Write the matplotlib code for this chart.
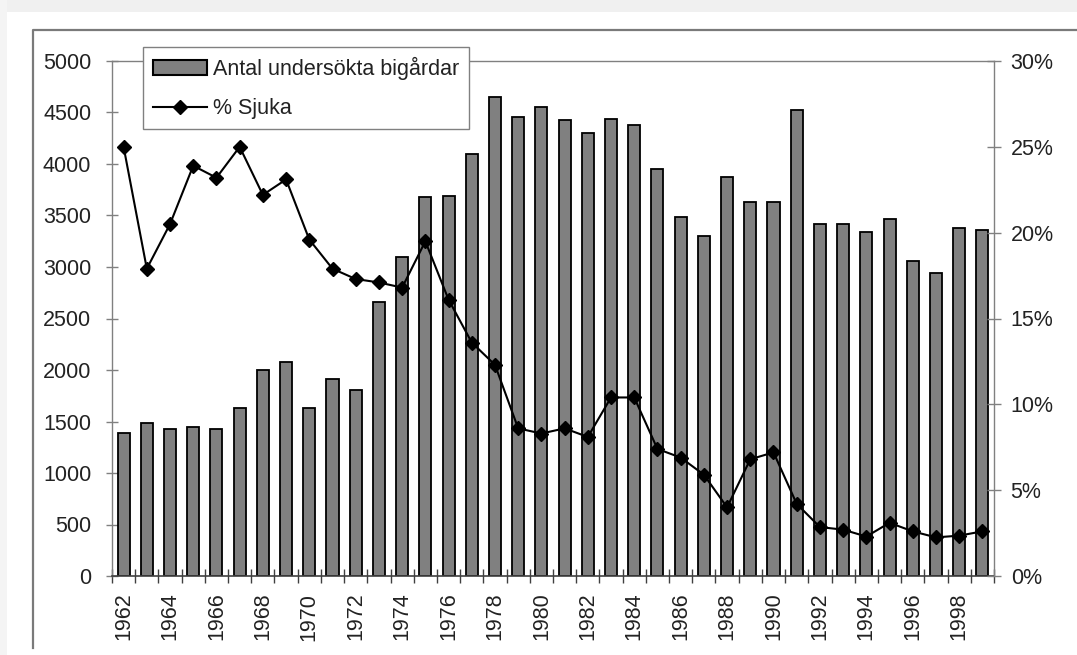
import matplotlib
matplotlib.use("Agg")
import matplotlib.pyplot as plt
from matplotlib.patches import Rectangle, Patch
from matplotlib.lines import Line2D
from matplotlib.ticker import FixedLocator, FuncFormatter

years = list(range(1962, 2000))
antal = [1390, 1490, 1430, 1450, 1430, 1630, 2000, 2080, 1630, 1910,
         1810, 2660, 3100, 3680, 3690, 4100, 4650, 4460, 4550, 4430,
         4300, 4440, 4380, 3950, 3490, 3300, 3870, 3630, 3630, 4520,
         3420, 3420, 3340, 3470, 3060, 2940, 3380, 3360]
sjuka = [25.0, 17.9, 20.5, 23.9, 23.2, 25.0, 22.2, 23.1, 19.6, 17.9,
         17.3, 17.1, 16.8, 19.5, 16.1, 13.6, 12.3, 8.6, 8.3, 8.6,
         8.1, 10.4, 10.4, 7.4, 6.9, 5.9, 4.0, 6.8, 7.2, 4.2,
         2.85, 2.7, 2.3, 3.1, 2.6, 2.25, 2.35, 2.6]
left_ticks = [0, 500, 1000, 1500, 2000, 2500, 3000, 3500, 4000, 4500, 5000]
right_ticks = [0, 5, 10, 15, 20, 25, 30]
label_bar = "Antal undersökta bigårdar"
label_line = "% Sjuka"

plt.rcParams['font.family'] = ['Liberation Sans', 'DejaVu Sans']
FS = 15.5
TXT = '#222222'
AX_GRAY = '#808080'

W, H = 1077, 655
fig = plt.figure(figsize=(W / 100, H / 100), dpi=100)
fig.patch.set_facecolor('white')

# screenshot background strips
fig.add_artist(Rectangle((0, 1 - 12 / H), 1, 12 / H, transform=fig.transFigure,
                         facecolor='#f0f0f0', edgecolor='none', zorder=-10))
fig.add_artist(Rectangle((0, 0), 7 / W, 1, transform=fig.transFigure,
                         facecolor='#f4f4f4', edgecolor='none', zorder=-10))
# chart area border (left and top)
fig.add_artist(Line2D([33 / W, 33 / W, 1.0], [1 - 648 / H, 1 - 30 / H, 1 - 30 / H],
                      transform=fig.transFigure, color='#7a7a7a', lw=1.6))

ax = fig.add_axes([112 / W, 1 - 576 / H, (994 - 112) / W, (576 - 61) / H])
ax2 = ax.twinx()

x = list(range(len(years)))
ax.bar(x, antal, width=0.52, color='#808080', edgecolor='black', linewidth=1.3, zorder=2)
ax2.plot(x, sjuka, color='black', lw=1.5, marker='D', markersize=7, zorder=3)

ax.set_xlim(-0.5, len(years) - 0.5)
ax.set_ylim(0, 5000)
ax2.set_ylim(0, 30)

ax.yaxis.set_major_locator(FixedLocator(left_ticks))
ax2.yaxis.set_major_locator(FixedLocator(right_ticks))
ax2.yaxis.set_major_formatter(FuncFormatter(lambda v, p: f"{v:.0f}%"))

# x ticks: labels every other year at centers, tick marks at boundaries
lab_pos = [i for i, y in enumerate(years) if y % 2 == 0]
ax.set_xticks(lab_pos)
ax.set_xticklabels([str(years[i]) for i in lab_pos], rotation=90)
ax.set_xticks([i - 0.5 for i in range(len(years) + 1)], minor=True)
ax.tick_params(axis='x', which='major', length=0, pad=12, labelsize=FS, labelcolor=TXT)
ax.tick_params(axis='x', which='minor', direction='inout', length=10, width=1.0, color='#404040')

ax.tick_params(axis='y', direction='inout', length=8, width=1.0, color=AX_GRAY,
               pad=11, labelsize=FS, labelcolor=TXT)
ax2.tick_params(axis='y', direction='inout', length=10, width=1.0, color=AX_GRAY,
                pad=7, labelsize=FS, labelcolor=TXT)

for s in ['left', 'top']:
    ax.spines[s].set_color(AX_GRAY)
    ax.spines[s].set_linewidth(1.0)
ax.spines['bottom'].set_color('#404040')
ax.spines['bottom'].set_linewidth(1.2)
ax.spines['right'].set_visible(False)
ax2.spines['right'].set_color(AX_GRAY)
ax2.spines['right'].set_linewidth(1.0)
for s in ['left', 'top', 'bottom']:
    ax2.spines[s].set_visible(False)

handles = [Patch(facecolor='#808080', edgecolor='black', linewidth=1.5),
           Line2D([], [], color='black', lw=1.5, marker='D', markersize=7)]
leg = fig.legend(handles, [label_bar, label_line], loc='upper left',
                 bbox_to_anchor=(143 / W, 1 - 47 / H), borderaxespad=0,
                 fontsize=FS, frameon=True, fancybox=False, framealpha=1,
                 edgecolor=AX_GRAY, handlelength=2.5, handletextpad=0.3,
                 borderpad=0.45, labelspacing=0.85)
leg.get_frame().set_linewidth(1.0)
for t in leg.get_texts():
    t.set_color(TXT)

fig.savefig('out.png', dpi=100)
